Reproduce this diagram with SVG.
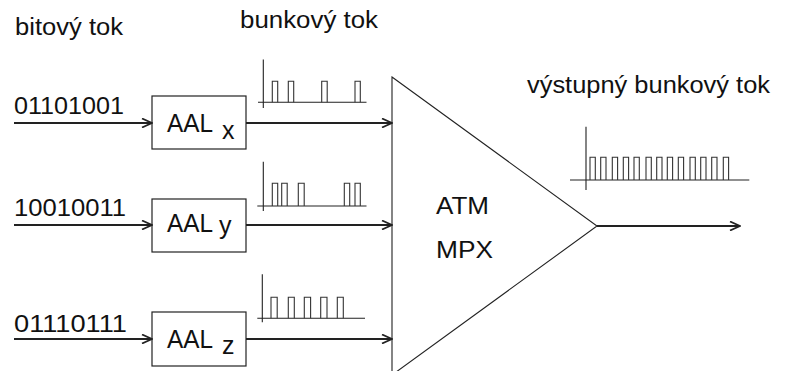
<svg xmlns="http://www.w3.org/2000/svg" width="785" height="371" viewBox="0 0 785 371">
<defs>
<style>
.t{font-family:"Liberation Sans",Arial,sans-serif;fill:#111;}
.lbl{font-size:23px;}
.bits{font-size:23.5px;}
.aal{font-size:25px;}
.mux{font-size:24px;}
.box{fill:#fff;stroke:#222;stroke-width:1.2;}
.thin{fill:none;stroke:#222;stroke-width:1.1;}
.pulse{fill:none;stroke:#333;stroke-width:1.1;}
.arrow{fill:none;stroke:#222;stroke-width:2;marker-end:url(#ah);}
</style>
<marker id="ah" viewBox="0 0 12 10" refX="11" refY="5" markerWidth="12" markerHeight="10" markerUnits="userSpaceOnUse" orient="auto">
<path d="M1,0.5 L11,5 L1,9.5" fill="none" stroke="#222" stroke-width="1.8"/>
</marker>
</defs>
<rect width="785" height="371" fill="#fff"/>

<g id="labels">
<text class="t lbl" x="15" y="35" textLength="108" lengthAdjust="spacingAndGlyphs">bitový tok</text>
<text class="t lbl" x="240" y="28" textLength="138" lengthAdjust="spacingAndGlyphs">bunkový tok</text>
<text class="t lbl" x="527" y="93" textLength="243" lengthAdjust="spacingAndGlyphs">výstupný bunkový tok</text>
</g>

<g id="input-x"><text class="t bits" x="14" y="114" textLength="110" lengthAdjust="spacingAndGlyphs">01101001</text></g>
<g id="input-y"><text class="t bits" x="14" y="215.5" textLength="112" lengthAdjust="spacingAndGlyphs">10010011</text></g>
<g id="input-z"><text class="t bits" x="14" y="331.5" textLength="113" lengthAdjust="spacingAndGlyphs">01110111</text></g>

<g id="aal-x">
<rect class="box" x="152" y="96" width="94" height="53"/>
<text class="t aal" x="167" y="131.5" textLength="46" lengthAdjust="spacingAndGlyphs">AAL</text>
<text class="t aal" x="222" y="138.5">x</text>
</g>
<g id="aal-y">
<rect class="box" x="152" y="199" width="94" height="53"/>
<text class="t aal" x="167" y="231.5" textLength="46" lengthAdjust="spacingAndGlyphs">AAL</text>
<text class="t aal" x="219" y="234">y</text>
</g>
<g id="aal-z">
<rect class="box" x="152" y="312" width="94" height="54"/>
<text class="t aal" x="167" y="347.5" textLength="46" lengthAdjust="spacingAndGlyphs">AAL</text>
<text class="t aal" x="222" y="354">z</text>
</g>

<g id="atm-mpx">
<path class="thin" d="M392,77 L597,226 L392,375 Z" fill="#fff"/>
<text class="t mux" x="436" y="213.5" textLength="53" lengthAdjust="spacingAndGlyphs">ATM</text>
<text class="t mux" x="436" y="257.5" textLength="57" lengthAdjust="spacingAndGlyphs">MPX</text>
</g>

<g id="stream-x">
<path class="thin" d="M263.3,59.5 V108 M258,102.3 H366.5"/>
<path class="pulse" d="M272.3,102.3 V81.3 H277.7 V102.3 M288.3,102.3 V81.3 H293.7 V102.3 M321.7,102.3 V81.3 H327.2 V102.3 M355,102.3 V81.3 H360.3 V102.3"/>
</g>
<g id="stream-y">
<path class="thin" d="M263.3,161.7 V211 M257.3,206 H366.5"/>
<path class="pulse" d="M272.3,206 V183.3 H277.7 V206 M281.7,206 V183.3 H287.2 V206 M298.3,206 V183.3 H304.2 V206 M344.3,206 V183.3 H349.7 V206 M355,206 V183.3 H360.3 V206"/>
</g>
<g id="stream-z">
<path class="thin" d="M262.3,274.3 V322.3 M257.3,318.3 H365"/>
<path class="pulse" d="M271,318.3 V297.3 H277.2 V318.3 M288.3,318.3 V297.3 H294.3 V318.3 M304.3,318.3 V297.3 H310.6 V318.3 M320.7,318.3 V297.3 H327 V318.3 M337.3,318.3 V297.3 H343.3 V318.3"/>
</g>
<g id="stream-out">
<path class="thin" d="M586,126.7 V190 M570,180 H749.3"/>
<path class="pulse" d="M590,180 V157.3 H595.3 V180 M600.7,180 V157.3 H606 V180 M612.3,180 V157.3 H617.6 V180 M623.3,180 V157.3 H628.6 V180 M634,180 V157.3 H639.3 V180 M646,180 V157.3 H651.3 V180 M656.7,180 V157.3 H662 V180 M667.3,180 V157.3 H672.6 V180 M678.3,180 V157.3 H683.6 V180 M690,180 V157.3 H695.3 V180 M700.7,180 V157.3 H706 V180 M711.7,180 V157.3 H717 V180 M723.3,180 V157.3 H728.6 V180"/>
</g>

<g id="connectors">
<path class="arrow" d="M14,123 H152"/>
<path class="arrow" d="M14,225 H152"/>
<path class="arrow" d="M14,339 H152"/>
<path class="arrow" d="M246,123 H392"/>
<path class="arrow" d="M246,225 H392"/>
<path class="arrow" d="M246,339 H392"/>
<path class="arrow" d="M597,226 H740"/>
</g>
</svg>
